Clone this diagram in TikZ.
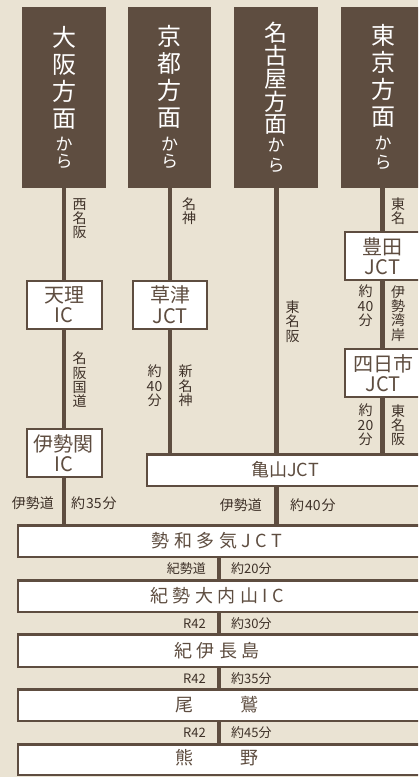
\documentclass[tikz,border=0pt]{standalone}
\usepackage{fontspec}
\setmainfont{Noto Sans CJK JP}
\definecolor{bg}{HTML}{EAE3D3}
\definecolor{brn}{HTML}{5E4D40}
\definecolor{lbl}{HTML}{3E3128}
\newcommand{\ksep}{\kern4.5pt\relax}
\begin{document}
\begin{tikzpicture}[x=1pt,y=-1pt,
  hd/.style={fill=brn, inner sep=0pt, outer sep=0pt, minimum width=84pt, minimum height=181pt},
  topch/.style={text=white, font=\fontsize{24}{27}\selectfont, inner sep=0pt, align=center},
  topkana/.style={text=white, font=\fontsize{17}{17}\selectfont, inner sep=0pt, align=center},
  road/.style={draw=brn, line width=4.5pt},
  bar/.style={draw=brn, line width=4pt},
  sbox/.style={draw=brn, fill=white, line width=2pt, inner sep=0pt, outer sep=0pt, minimum height=48pt,
               text=brn, font=\fontsize{20}{20.5}\selectfont, align=center},
  stxt/.style={text=brn, font=\fontsize{20}{20.5}\selectfont, align=center, inner sep=0pt},
  vlbl/.style={text=lbl, font=\fontsize{14}{14.3}\selectfont, align=center, inner sep=0pt},
  bbox/.style={draw=brn, fill=white, line width=2.5pt, inner sep=0pt, outer sep=0pt,
               minimum width=406.75pt, minimum height=31.5pt},
  btxt/.style={text=brn, font=\fontsize{18}{18}\selectfont, inner sep=0pt},
  rlbl/.style={text=lbl, font=\fontsize{13}{13}\selectfont, inner sep=0pt},
  rlblb/.style={text=lbl, font=\fontsize{14}{14}\selectfont, inner sep=0pt}]
\useasboundingbox (0,0) rectangle (418,777);
\clip (0,0) rectangle (418,777);
\fill[bg] (0,0) rectangle (418,777);

% line x positions
\coordinate (L1) at (64,0);
\coordinate (L2) at (170,0);
\coordinate (L3) at (276.5,0);
\coordinate (L4) at (382.5,0);
\coordinate (LB) at (219,0);

% top heading boxes
\node[hd] (osaka) at (64,97.5) {};
\node[hd, minimum width=83pt] (kyoto) at (169.5,97.5) {};
\node[hd] (nagoya) at (276,97.5) {};
\node[hd] (tokyo) at (383,97.5) {};

\node[topch] (osktx) at (64,77.5) {大\\阪\\方\\面};
\node[topkana] (oskkana) at (64,153) {か\\ら};
\node[topch] (kyotx) at (169.5,77) {京\\都\\方\\面};
\node[topkana] (kyokana) at (169.5,153) {か\\ら};
\node[topch, font=\fontsize{23}{22.75}\selectfont] (ngytx) at (276,78.5) {名\\古\\屋\\方\\面};
\node[topkana, font=\fontsize{17}{19.5}\selectfont] (ngykana) at (276,155.3) {か\\ら};
\node[topch] (tkytx) at (383,76.3) {東\\京\\方\\面};
\node[topkana, font=\fontsize{17}{19}\selectfont] (tkykana) at (383,152.5) {か\\ら};

% small boxes
\node[sbox, minimum width=75pt] (tenri) at (64,304.5) {天理\\IC};
\node[sbox, minimum width=74pt] (kusatsu) at (170,304.5) {草津\\JCT};
\node[sbox, minimum width=75pt] (iseseki) at (64,453) {伊勢関\\IC};
\node[sbox, minimum width=80pt] (toyota) at (385,256) {};
\node[stxt] (toyotatx) at (382.5,256) {豊田\\JCT};
\node[sbox, minimum width=80pt] (yokkaichi) at (385,373) {};
\node[stxt] (yokkaichitx) at (383,373) {四日市\\JCT};

% Kameyama
\node[bbox, minimum width=275.75pt, btxt, draw=brn, fill=white] (kameyama) at (285.1,470) {亀山JCT};

% lower boxes
\node[bbox] (seiwa) at (221.6,541) {};
\node[bbox] (kisei) at (221.6,596) {};
\node[bbox, minimum height=32.5pt] (kiinaga) at (221.6,650.5) {};
\node[bbox] (owase) at (221.6,705) {};
\node[bbox, minimum height=30.5pt] (kumano) at (221.6,759.5) {};

\node[btxt] (seiwatx) at (217,541) {勢\ksep 和\ksep 多\ksep 気\ksep J\ksep C\ksep T};
\node[btxt] (kiseitx) at (217,596) {紀\ksep 勢\ksep 大\ksep 内\ksep 山\ksep I\ksep C};
\node[btxt] (kiinagatx) at (217,651) {紀\ksep 伊\ksep 長\ksep 島};
\node[btxt] (owasetx) at (217,705) {尾\kern48pt 鷲};
\node[btxt] (kumanotx) at (217,758) {熊\kern48pt 野};

% roads
\draw[road] (osaka.south -| L1) -- (tenri.north -| L1);
\draw[road] (tenri.south -| L1) -- (iseseki.north -| L1);
\draw[road] (iseseki.south -| L1) -- (seiwa.north -| L1);
\draw[road] (kyoto.south -| L2) -- (kusatsu.north -| L2);
\draw[road] (kusatsu.south -| L2) -- (kameyama.north -| L2);
\draw[road] (nagoya.south -| L3) -- (kameyama.north -| L3);
\draw[road] (kameyama.south -| L3) -- (seiwa.north -| L3);
\draw[road] (tokyo.south -| L4) -- (toyota.north -| L4);
\draw[road] (toyota.south -| L4) -- (yokkaichi.north -| L4);
\draw[road] (yokkaichi.south -| L4) -- (kameyama.north -| L4);
\draw[bar] (seiwa.south -| LB) -- (kisei.north -| LB);
\draw[bar] (kisei.south -| LB) -- (kiinaga.north -| LB);
\draw[bar] (kiinaga.south -| LB) -- (owase.north -| LB);
\draw[bar] (owase.south -| LB) -- (kumano.north -| LB);

% vertical labels
\node[vlbl] (v1) at (79.5,218.5) {西\\名\\阪};
\node[vlbl] (v2) at (189,211.5) {名\\神};
\node[vlbl] (v3) at (79.5,380) {名\\阪\\国\\道};
\node[vlbl] (v4) at (154.5,386) {約\\40\\分};
\node[vlbl] (v5) at (185.5,386) {新\\名\\神};
\node[vlbl] (v6) at (292.5,321.5) {東\\名\\阪};
\node[vlbl] (v7) at (398,211) {東\\名};
\node[vlbl] (v8) at (365.5,306) {約\\40\\分};
\node[vlbl] (v9) at (398,313.5) {伊\\勢\\湾\\岸};
\node[vlbl] (v10) at (365.5,425) {約\\20\\分};
\node[vlbl] (v11) at (398,425) {東\\名\\阪};

% row labels
\node[rlblb, anchor=east] (r1a) at (54,503.5) {伊勢道};
\node[rlblb, anchor=west] (r1b) at (71,503.5) {約\kern1pt 35\kern1pt 分};
\node[rlblb, anchor=east] (r2a) at (262,505) {伊勢道};
\node[rlblb, anchor=west] (r2b) at (290,505) {約\kern1pt 40\kern1pt 分};
\node[rlbl, anchor=east] (r3a) at (206,568.5) {紀勢道};
\node[rlbl, anchor=west] (r3b) at (231,568.5) {約20分};
\node[rlbl, anchor=east] (r4a) at (206,623.5) {R42};
\node[rlbl, anchor=west] (r4b) at (231,623.5) {約30分};
\node[rlbl, anchor=east] (r5a) at (206,678.5) {R42};
\node[rlbl, anchor=west] (r5b) at (231,678.5) {約35分};
\node[rlbl, anchor=east] (r6a) at (206,732.5) {R42};
\node[rlbl, anchor=west] (r6b) at (231,732.5) {約45分};
\end{tikzpicture}
\end{document}
